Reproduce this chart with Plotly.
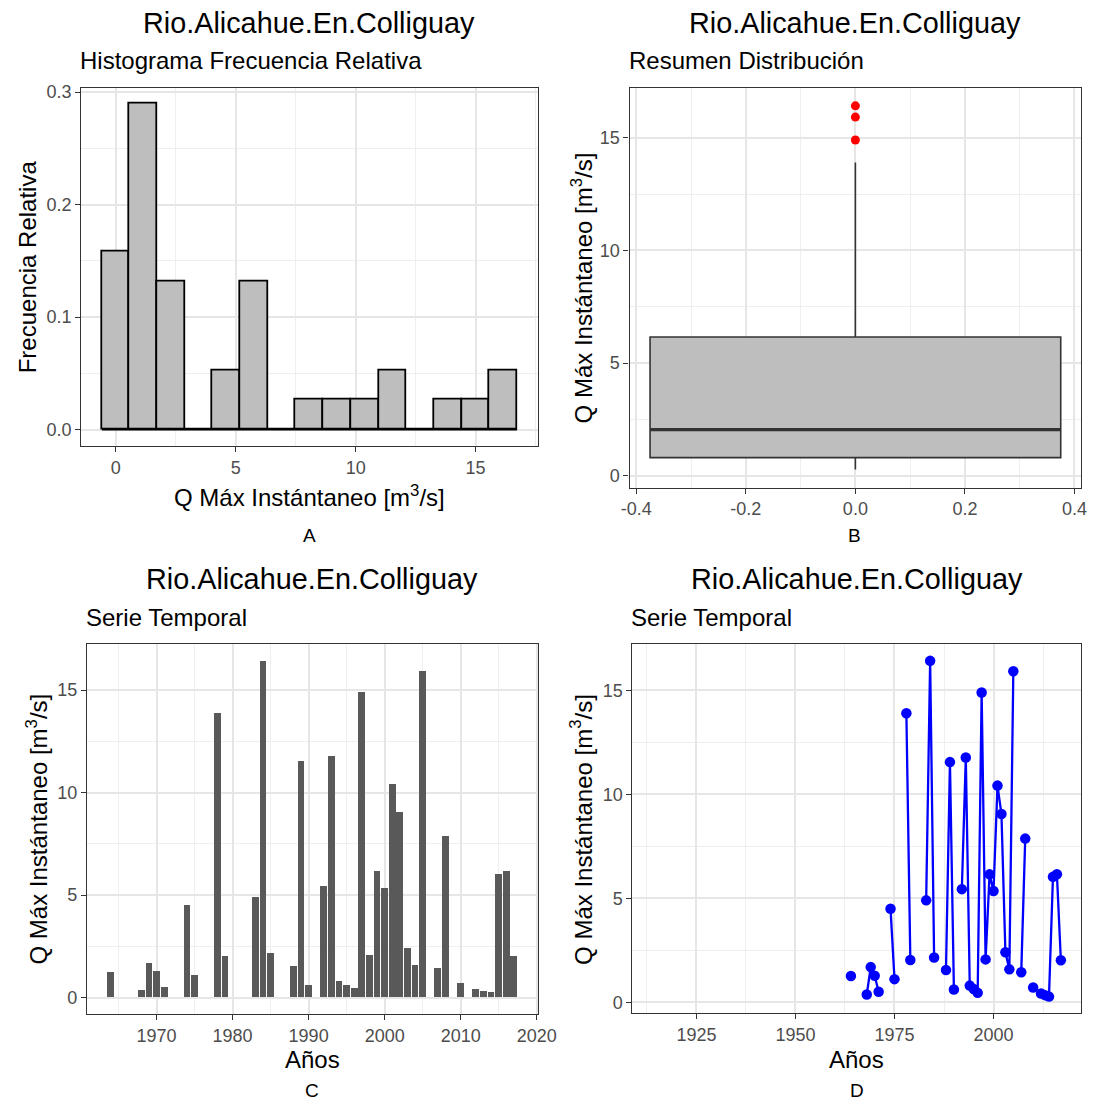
import numpy as np
import plotly.graph_objects as go

# ---- data -----------------------------------------------------------------
station = "Rio.Alicahue.En.Colliguay"
years = [1964, 1968, 1969, 1970, 1971, 1974, 1975, 1978, 1979, 1983,
         1984, 1985, 1988, 1989, 1990, 1992, 1993, 1994, 1995, 1996,
         1997, 1998, 1999, 2000, 2001, 2002, 2003, 2004, 2005, 2007,
         2008, 2010, 2012, 2013, 2014, 2015, 2016, 2017]
qmax = [1.26, 0.37, 1.69, 1.27, 0.50, 4.50, 1.11, 13.90, 2.03, 4.90,
        16.42, 2.15, 1.55, 11.55, 0.61, 5.44, 11.77, 0.80, 0.63, 0.45,
        14.90, 2.06, 6.15, 5.35, 10.42, 9.05, 2.40, 1.58, 15.92, 1.44,
        7.87, 0.71, 0.42, 0.34, 0.27, 6.03, 6.16, 2.02]
hist_ticks = [0, 5, 10, 15]
box_ticks = [-0.4, -0.2, 0.0, 0.2, 0.4]
q_ticks = [0, 5, 10, 15]
bar_year_ticks = [1970, 1980, 1990, 2000, 2010, 2020]
line_year_ticks = [1925, 1950, 1975, 2000]
line_year_range = [1908.85, 2022.15]   # record period shown on the last panel

W, H = 1111, 1101
FONT = "Liberation Sans, Arial, sans-serif"
q = np.array(qmax)


def expand(lo, hi, f=0.05):
    d = (hi - lo) * f
    return [lo - d, hi + d]


# ---- histogram with 15 bins centred on the data minimum ----------------
nbins = 15
lo, hi = q.min(), q.max()
bw = (hi - lo) / (nbins - 1)
origin = bw / 2 + np.floor((lo - bw / 2) / bw) * bw
edges = origin + bw * np.arange(nbins + 1)
counts, _ = np.histogram(q, bins=edges)
rel = counts / len(q)
centres = (edges[:-1] + edges[1:]) / 2

# ---- complete yearly series (gaps stay empty) ----------------------------
full_years = list(range(min(years), max(years) + 1))
lookup = dict(zip(years, qmax))
full_q = [lookup.get(y) for y in full_years]

# ---- panel geometry (pixels) ---------------------------------------------
P = {
    "A": (75, 543, 83, 443),
    "B": (637, 1100, 83, 485),
    "C": (81, 543, 642, 1014),
    "D": (640, 1100, 642, 1013),
}


def dom(key):
    x0, x1, y0, y1 = P[key]
    return [x0 / W, x1 / W], [1 - y1 / H, 1 - y0 / H]


fig = go.Figure()

# A: relative frequency histogram
fig.add_trace(go.Bar(
    x=centres, y=rel, width=bw,
    marker=dict(color="#BEBEBE", line=dict(color="black", width=1.8)),
    xaxis="x", yaxis="y", hoverinfo="x+y"))
fig.add_trace(go.Scatter(
    x=[edges[0], edges[-1]], y=[0, 0], mode="lines",
    line=dict(color="black", width=1.8), xaxis="x", yaxis="y", hoverinfo="skip"))

# B: box plot
fig.add_trace(go.Box(
    x=np.zeros(len(q)), y=q, width=0.75, orientation="v",
    quartilemethod="linear", boxpoints="outliers", jitter=0, pointpos=0,
    whiskerwidth=0, fillcolor="#BEBEBE",
    line=dict(color="#333333", width=1.6),
    marker=dict(color="#FF0000", size=9, line=dict(width=0)),
    xaxis="x2", yaxis="y2"))
med = float(np.median(q))
fig.add_trace(go.Scatter(
    x=[-0.375, 0.375], y=[med, med], mode="lines",
    line=dict(color="#333333", width=3.4), xaxis="x2", yaxis="y2",
    hoverinfo="skip"))

# C: yearly bars
fig.add_trace(go.Bar(
    x=years, y=qmax, width=0.9,
    marker=dict(color="#595959", line=dict(width=0)),
    xaxis="x3", yaxis="y3"))

# D: yearly line with points
fig.add_trace(go.Scatter(
    x=full_years, y=full_q, mode="lines+markers", connectgaps=False,
    line=dict(color="#0000FF", width=2.3),
    marker=dict(color="#0000FF", size=10.5),
    xaxis="x4", yaxis="y4"))

# ---- axes -----------------------------------------------------------------
grid = dict(showgrid=True, gridcolor="#E6E6E6", gridwidth=1.5,
            zeroline=False, showline=True, mirror=True,
            linecolor="#333333", linewidth=1.1,
            ticks="outside", ticklen=5, tickwidth=1.1, tickcolor="#333333",
            tickfont=dict(family=FONT, size=18, color="#4D4D4D"))


def minor(step, start=None):
    m = dict(showgrid=True, gridcolor="#EFEFEF", gridwidth=0.9, dtick=step,
             ticks="")
    if start is not None:
        m["tick0"] = start
    return m


hx0, hx1 = expand(edges[0], edges[-1])
xa, ya = dom("A")
fig.update_layout(
    xaxis=dict(grid, domain=xa, anchor="y", range=[hx0, hx1],
               tickvals=hist_ticks, minor=minor(2.5, 0)),
    yaxis=dict(grid, domain=ya, anchor="x", range=expand(0, rel.max()),
               tickvals=[0, 0.1, 0.2, 0.3], ticktext=["0.0", "0.1", "0.2", "0.3"],
               minor=minor(0.05, 0)),
)
xb, yb = dom("B")
fig.update_layout(
    xaxis2=dict(grid, domain=xb, anchor="y2", range=[-0.4125, 0.4125],
                tickvals=box_ticks, ticktext=["-0.4", "-0.2", "0.0", "0.2", "0.4"],
                minor=minor(0.1, 0)),
    yaxis2=dict(grid, domain=yb, anchor="x2", range=expand(lo, hi),
                tickvals=q_ticks, minor=minor(2.5, 0)),
)
xc, yc = dom("C")
fig.update_layout(
    xaxis3=dict(grid, domain=xc, anchor="y3",
                range=expand(min(years) - 0.45, max(years) + 0.45),
                tickvals=bar_year_ticks, minor=minor(5, 1960)),
    yaxis3=dict(grid, domain=yc, anchor="x3", range=expand(0, hi),
                tickvals=q_ticks, minor=minor(2.5, 0)),
)
xd, yd = dom("D")
fig.update_layout(
    xaxis4=dict(grid, domain=xd, anchor="y4", range=line_year_range,
                tickvals=line_year_ticks, minor=minor(12.5, 1912.5)),
    yaxis4=dict(grid, domain=yd, anchor="x4", range=expand(lo, hi),
                tickvals=q_ticks, minor=minor(2.5, 0)),
)

# ---- text -----------------------------------------------------------------
def note(text, x, y, size, color="black", angle=0, xanchor="center"):
    fig.add_annotation(text=text, x=x / W, y=1 - y / H, xref="paper", yref="paper",
                       showarrow=False, textangle=angle, xanchor=xanchor,
                       yanchor="middle", borderpad=0,
                       font=dict(family=FONT, size=size, color=color))


qlabel = "Q Máx Instántaneo [m<sup>3</sup>/s]"
subs = {"A": "Histograma Frecuencia Relativa", "B": "Resumen Distribución",
        "C": "Serie Temporal", "D": "Serie Temporal"}
for key, (x0, x1, y0, y1) in P.items():
    cx = (x0 + x1) / 2
    note(station, cx, y0 - 65, 28.8)
    note(subs[key], x0 - 2, y0 - 27, 24, xanchor="left")

note(qlabel, 309, 493, 24)
note("Años", 312, 1059, 24)
note("Años", 870, 1059, 24)
note("A", 309, 533, 19)
note("B", 868, 533, 19)
note("C", 312, 1090, 19)
note("D", 870, 1090, 19)
note("Frecuencia Relativa", 20, 263, 24, angle=-90)
note(qlabel, 588, 284, 24, angle=-90)
note(qlabel, 30, 828, 24, angle=-90)
note(qlabel, 588, 828, 24, angle=-90)

fig.update_layout(
    width=W, height=H, margin=dict(l=0, r=0, t=0, b=0),
    paper_bgcolor="white", plot_bgcolor="white",
    showlegend=False, bargap=0,
    font=dict(family=FONT),
)

# keep the page exactly the size of the figure
fig.write_html(
    "out.html",
    post_script="document.body.style.margin='0';"
                "document.documentElement.style.overflow='hidden';"
                "document.body.style.overflow='hidden';",
)
